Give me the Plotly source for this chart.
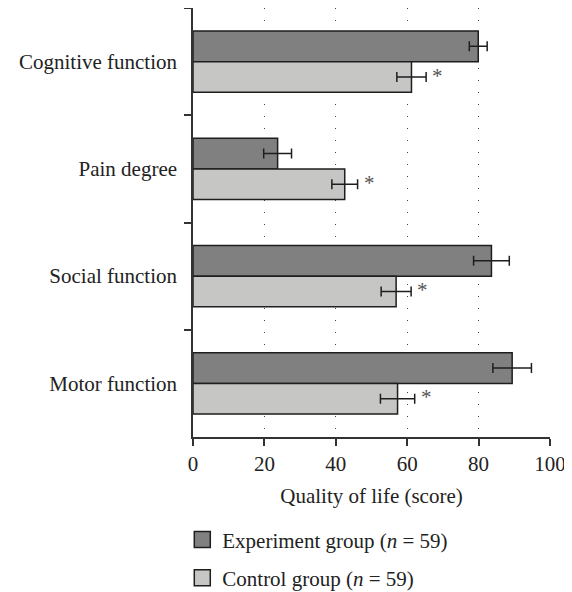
import plotly.graph_objects as go

categories = ["Cognitive function", "Pain degree", "Social function", "Motor function"]
exp_values = [79.9, 23.7, 83.6, 89.4]
exp_errors = [2.5, 3.9, 5.0, 5.4]
ctrl_values = [61.2, 42.5, 56.9, 57.3]
ctrl_errors = [4.1, 3.6, 4.2, 4.8]
significant = ["*", "*", "*", "*"]
x_ticks = [0, 20, 40, 60, 80, 100]
exp_name = "Experiment group (<i>n</i> = 59)"
ctrl_name = "Control group (<i>n</i> = 59)"

FONT = "Liberation Serif"
FS = 21
EDGE = "#1e1e1e"
EXP_COLOR = "#808080"
CTRL_COLOR = "#c6c7c5"
TEXT = "#222222"

fig = go.Figure()
fig.add_trace(go.Bar(
    y=categories, x=exp_values, orientation="h", name=exp_name,
    marker=dict(color=EXP_COLOR, line=dict(color=EDGE, width=1.5)),
    error_x=dict(type="data", array=exp_errors, color=EDGE, thickness=1.5, width=5),
    showlegend=False,
))
fig.add_trace(go.Bar(
    y=categories, x=ctrl_values, orientation="h", name=ctrl_name,
    marker=dict(color=CTRL_COLOR, line=dict(color=EDGE, width=1.5)),
    error_x=dict(type="data", array=ctrl_errors, color=EDGE, thickness=1.5, width=5),
    showlegend=False,
))
# legend entries
fig.add_trace(go.Scatter(
    x=[None], y=[None], mode="markers", name=exp_name, legendgroup="a",
    marker=dict(symbol="square", size=16, color=EXP_COLOR, line=dict(color=EDGE, width=1.5)),
))
fig.add_trace(go.Scatter(
    x=[None], y=[None], mode="markers", name=ctrl_name, legendgroup="b",
    marker=dict(symbol="square", size=16, color=CTRL_COLOR, line=dict(color=EDGE, width=1.5)),
))

for cat, v, e, s in zip(categories, ctrl_values, ctrl_errors, significant):
    if s:
        fig.add_annotation(
            x=v + e, y=cat, text=s, showarrow=False, xanchor="left",
            xshift=4, yshift=-14, font=dict(family=FONT, size=FS, color="#555555"),
        )

# page body has an 8px margin, so the figure is offset to compensate
fig.update_layout(
    width=564, height=592,
    margin=dict(l=185, r=22, t=0, b=163),
    plot_bgcolor="white", paper_bgcolor="white",
    barmode="group", bargap=0.43, bargroupgap=0,
    font=dict(family=FONT, size=FS, color=TEXT),
    legend=dict(
        x=-0.03, xanchor="left", y=-0.192, yanchor="top",
        traceorder="grouped", tracegroupgap=8,
        font=dict(family=FONT, size=FS, color=TEXT),
        bgcolor="rgba(0,0,0,0)", itemsizing="trace",
    ),
    showlegend=True,
)
fig.update_xaxes(
    range=[0, 100], tickvals=x_ticks, showgrid=True, gridcolor="#444444",
    gridwidth=1, griddash="1px,11px", zeroline=False,
    showline=True, linecolor="#333333", linewidth=1.5,
    ticks="outside", ticklen=7, tickwidth=1.5, tickcolor="#333333",
    tickfont=dict(family=FONT, size=FS, color=TEXT),
    title=dict(text="Quality of life (score)", standoff=13,
               font=dict(family=FONT, size=FS, color=TEXT)),
    automargin=False,
)
fig.update_yaxes(
    categoryorder="array", categoryarray=categories, autorange="reversed",
    showline=True, linecolor="#333333", linewidth=1.5,
    ticks="outside", ticklen=7, tickwidth=1.5, tickcolor="#333333",
    tickfont=dict(family=FONT, size=FS, color=TEXT),
    tickson="boundaries", showgrid=False, automargin=False,
    ticklabelstandoff=10,
)

fig.write_html("out.html")
